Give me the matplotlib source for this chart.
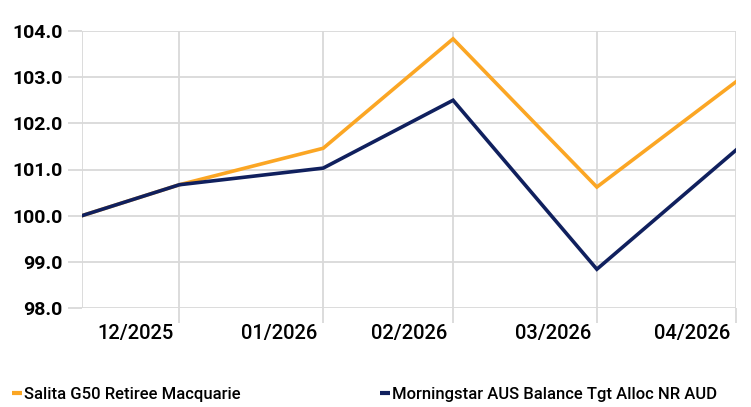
import matplotlib
matplotlib.use("Agg")
import matplotlib.pyplot as plt
import matplotlib.dates as mdates
import matplotlib.transforms as mtrans
from matplotlib.lines import Line2D
import pandas as pd

# data
dates = pd.to_datetime(["2025-12-10", "2025-12-31", "2026-01-31",
                        "2026-02-28", "2026-03-31", "2026-04-30"])
salita = [100.0, 100.67, 101.46, 103.83, 100.62, 102.90]
morningstar = [100.0, 100.67, 101.03, 102.50, 98.84, 101.42]
tick_dates = pd.to_datetime(["2025-12-31", "2026-01-31", "2026-02-28",
                             "2026-03-31", "2026-04-30"])
series_names = ["Salita G50 Retiree Macquarie",
                "Morningstar AUS Balance Tgt Alloc NR AUD"]

orange = "#FBA624"
navy = "#10205E"
grid_c = "#D9D9D9"

plt.rcParams['font.family'] = ['Roboto', 'DejaVu Sans']

fig = plt.figure(figsize=(7.51, 4.07), dpi=100)
ax = fig.add_axes([82 / 751, 1 - 308 / 407, (736 - 82) / 751, (308 - 31) / 407])

ax.plot(dates, salita, color=orange, lw=2.6, solid_joinstyle='miter', zorder=3)
ax.plot(dates, morningstar, color=navy, lw=2.6, solid_joinstyle='miter', zorder=3)

ax.set_xlim(dates[0], dates[-1])
ax.set_ylim(98, 104)
ax.set_yticks(range(98, 105))
ax.yaxis.set_major_formatter(matplotlib.ticker.FormatStrFormatter('%.1f'))
ax.set_xticks(tick_dates)
ax.xaxis.set_major_formatter(mdates.DateFormatter('%m/%Y'))

ax.grid(True, color=grid_c, lw=1.3)
for s in ax.spines.values():
    s.set_visible(False)
ax.axvline(dates[0], color=grid_c, lw=1.3, zorder=0)

ax.tick_params(axis='both', width=1.3, color=grid_c)
ax.tick_params(axis='y', length=10, pad=4, labelsize=14)
ax.tick_params(axis='x', length=10.5, pad=1, labelsize=14.5)
for lab in ax.get_yticklabels():
    lab.set_fontweight('bold')
off = mtrans.ScaledTranslation(-4 / 72, 0, fig.dpi_scale_trans)
for lab in ax.get_xticklabels():
    lab.set_ha('right')
    lab.set_fontweight('medium')
    lab.set_transform(lab.get_transform() + off)

# legend
handles = [Line2D([], [], color=orange, lw=3, solid_capstyle='butt'),
           Line2D([], [], color=navy, lw=3, solid_capstyle='butt')]
fig.legend(handles, series_names, loc='center left', bbox_to_anchor=(12 / 751, 0.03),
           ncol=2, frameon=False, borderpad=0, borderaxespad=0,
           handlelength=0.6, handletextpad=0.1,
           columnspacing=8.4, prop={'size': 12, 'weight': 'medium'})

fig.savefig("out.png", dpi=100)
